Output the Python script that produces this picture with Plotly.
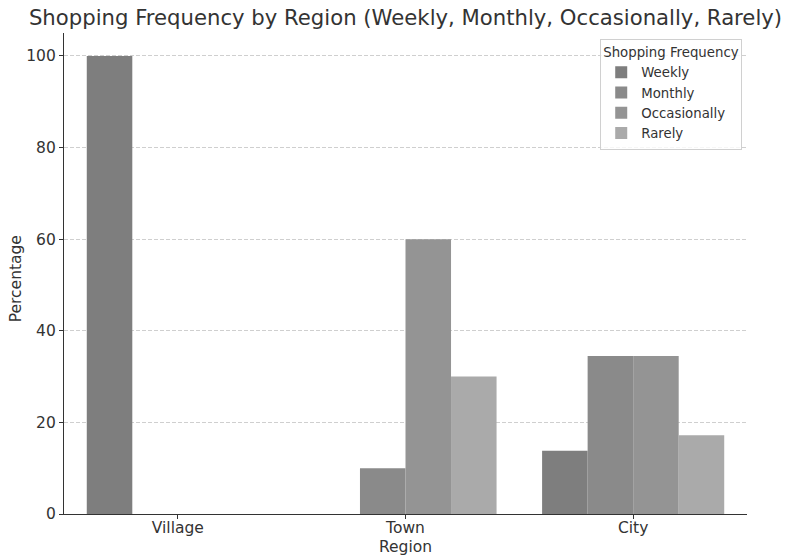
import plotly.graph_objects as go

regions = ["Village", "Town", "City"]
frequencies = ["Weekly", "Monthly", "Occasionally", "Rarely"]
weekly = [100.0, 0.0, 13.8]
monthly = [0.0, 10.0, 34.5]
occasionally = [0.0, 60.0, 34.5]
rarely = [0.0, 30.0, 17.2]
series = [weekly, monthly, occasionally, rarely]
colors = ["#7e7e7e", "#8a8a8a", "#949494", "#aaaaaa"]
y_ticks = [0, 20, 40, 60, 80, 100]

font_family = "DejaVu Sans, sans-serif"
text_color = "#333333"

fig = go.Figure()
for name, values, color in zip(frequencies, series, colors):
    fig.add_trace(go.Bar(
        name=name,
        x=regions,
        y=values,
        marker=dict(color=color, line=dict(width=0)),
    ))

fig.update_layout(
    width=788,
    height=559,
    barmode="group",
    bargap=0.2,
    bargroupgap=0,
    plot_bgcolor="white",
    paper_bgcolor="white",
    margin=dict(l=64, r=41, t=33, b=45),
    font=dict(family=font_family, color=text_color, size=16),
    title=dict(
        text="Shopping Frequency by Region (Weekly, Monthly, Occasionally, Rarely)",
        x=0.5, xref="paper", xanchor="center",
        y=0.968, yanchor="middle",
        font=dict(size=21.2, color=text_color),
    ),
    legend=dict(
        title=dict(text="Shopping Frequency", font=dict(size=13.3, color=text_color)),
        font=dict(size=13.3, color=text_color),
        x=0.993, xanchor="right",
        y=0.988, yanchor="top",
        bgcolor="rgba(255,255,255,0.8)",
        bordercolor="#d0d0d0",
        borderwidth=1,
        tracegroupgap=0,
        itemsizing="constant",
    ),
    xaxis=dict(
        automargin=False,
        range=[-0.5, 2.5],
        showline=True, linecolor="#333333", linewidth=1.2,
        ticks="outside", ticklen=4, tickcolor="#333333",
        tickfont=dict(size=15.5),
        ticklabelstandoff=-5,
        showgrid=False,
        zeroline=False,
    ),
    yaxis=dict(
        automargin=False,
        range=[0, 105],
        tickvals=y_ticks,
        showline=True, linecolor="#333333", linewidth=1.2,
        ticks="outside", ticklen=4, tickcolor="#333333",
        tickfont=dict(size=15.5),
        showgrid=True, gridcolor="#cfcfcf", gridwidth=0.8, griddash="4px,2px",
        zeroline=False,
    ),
    annotations=[
        dict(text="Region", xref="paper", yref="paper", x=0.5, y=-0.0686,
             xanchor="center", yanchor="middle", showarrow=False,
             font=dict(size=15.5, color=text_color)),
        dict(text="Percentage", xref="paper", yref="paper", x=-0.0703, y=0.49,
             xanchor="center", yanchor="middle", textangle=-90, showarrow=False,
             font=dict(size=15.5, color=text_color)),
    ],
)

fig.write_html("out.html")
